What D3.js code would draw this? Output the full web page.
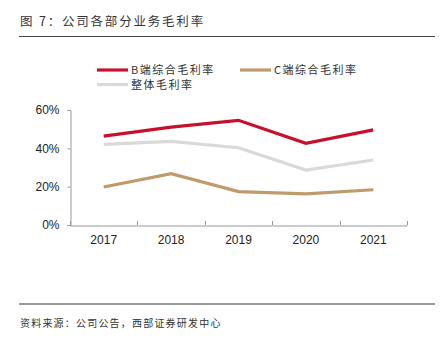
<!DOCTYPE html>
<html>
<head>
<meta charset="utf-8">
<script src="https://cdn.jsdelivr.net/npm/d3@7"></script>
<style>
  body { margin: 0; background: #fff; }
  svg { display: block; }
</style>
</head>
<body>
<svg id="chart" width="441" height="337"></svg>
<script>
const years = ["2017", "2018", "2019", "2020", "2021"];
const bMargin = [46.4, 51.1, 54.6, 42.6, 49.6];
const cMargin = [19.8, 26.8, 17.4, 16.2, 18.4];
const totalMargin = [42.1, 43.6, 40.3, 28.7, 33.9];
const yTicks = [0, 20, 40, 60];

const seriesList = [
    { name: "整体毛利率", values: totalMargin, color: "#d9d9d9" },
    { name: "C端综合毛利率", values: cMargin, color: "#c19a6b" },
    { name: "B端综合毛利率", values: bMargin, color: "#c8102e" }
];

const svg = d3.select("#chart");
const cjk = "'Noto Sans CJK SC', sans-serif";
const latin = "'Liberation Sans', Arial, sans-serif";

// title
svg.append("text")
    .attr("x", 20).attr("y", 25.5)
    .attr("font-family", cjk).attr("font-size", 12.5)
    .attr("letter-spacing", 1.8)
    .attr("fill", "#333")
    .text("图 7：公司各部分业务毛利率");
svg.append("line")
    .attr("x1", 19).attr("x2", 435).attr("y1", 36.5).attr("y2", 36.5)
    .attr("stroke", "#444").attr("stroke-width", 1);

// scales
const xScale = d3.scaleBand().domain(years).range([70, 407]);
const yScale = d3.scaleLinear().domain([0, 60]).range([225, 110]);

// axes
const yAxis = d3.axisLeft(yScale).tickValues(yTicks).tickSize(3).tickFormat(d => d + "%");
const gy = svg.append("g").attr("transform", "translate(70.5,0)").call(yAxis);
gy.select(".domain").attr("stroke", "#999");
gy.selectAll(".tick line").attr("stroke", "#999");
gy.selectAll(".tick text")
    .attr("x", -11)
    .attr("font-family", latin).attr("font-size", 12).attr("fill", "#222");

const xAxis = d3.axisBottom(xScale).tickSize(0).tickSizeOuter(0);
const gx = svg.append("g").attr("transform", "translate(0,225.5)").call(xAxis);
gx.select(".domain").attr("stroke", "#999");
gx.selectAll(".tick text")
    .attr("dy", 0).attr("y", 18)
    .attr("font-family", latin).attr("font-size", 12).attr("fill", "#222");
// tick marks at band boundaries, pointing up
const bounds = years.map(d => xScale(d)).concat([xScale.range()[1]]);
svg.append("g").selectAll("line").data(bounds).join("line")
    .attr("x1", d => Math.round(d) + 0.5).attr("x2", d => Math.round(d) + 0.5)
    .attr("y1", 225).attr("y2", 221)
    .attr("stroke", "#999");

// lines
const line = d3.line()
    .x((d, i) => xScale(years[i]) + xScale.bandwidth() / 2)
    .y(d => yScale(d));
svg.append("g").selectAll("path").data(seriesList).join("path")
    .attr("d", d => line(d.values))
    .attr("fill", "none")
    .attr("stroke", d => d.color)
    .attr("stroke-width", 3.2);

// legend
const legendItems = [
    { name: "B端综合毛利率", color: "#c8102e", x: 97, y: 70 },
    { name: "C端综合毛利率", color: "#c19a6b", x: 240, y: 70 },
    { name: "整体毛利率", color: "#d9d9d9", x: 97, y: 84.5 }
];
const lg = svg.append("g").selectAll("g").data(legendItems).join("g")
    .attr("transform", d => `translate(${d.x},${d.y})`);
lg.append("line")
    .attr("x1", 0).attr("x2", 31).attr("y1", 0).attr("y2", 0)
    .attr("stroke", d => d.color).attr("stroke-width", 3.2);
lg.append("text")
    .attr("x", 34).attr("y", 4)
    .attr("font-family", cjk).attr("font-size", 11)
    .attr("letter-spacing", 1.5).attr("fill", "#333")
    .text(d => d.name);

// footer
svg.append("line")
    .attr("x1", 19).attr("x2", 435).attr("y1", 304).attr("y2", 304)
    .attr("stroke", "#999").attr("stroke-width", 2);
svg.append("text")
    .attr("x", 20).attr("y", 327)
    .attr("font-family", cjk).attr("font-size", 10)
    .attr("letter-spacing", 1.2).attr("fill", "#333")
    .text("资料来源：公司公告，西部证券研发中心");
</script>
</body>
</html>
